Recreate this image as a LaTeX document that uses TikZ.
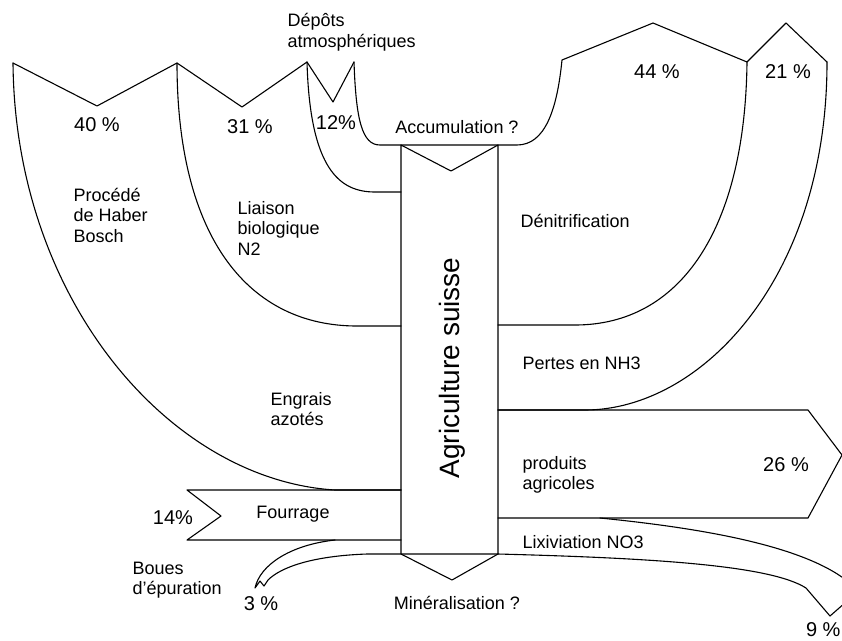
\documentclass[tikz,border=0pt]{standalone}
\usepackage{fontspec}
\setmainfont{Liberation Sans}
\begin{document}
\begin{tikzpicture}[x=1pt, y=-1pt, line width=1.1pt, line join=round, line cap=round,
	lbl/.style={font=\fontsize{18}{20.5}\selectfont, align=left, anchor=west, inner sep=0pt},
	pct/.style={font=\fontsize{20}{22}\selectfont, inner sep=0pt}]
	\useasboundingbox (0,0) rectangle (842,640);
	\path
	(13,63) coordinate (HBa)
	(97,106) coordinate (HBv)
	(177,63) coordinate (LBa)
	(242,107) coordinate (LBv)
	(307,62) coordinate (DAa)
	(333,102) coordinate (DAv)
	(354,62) coordinate (DAb)
	(562,60) coordinate (ACe)
	(653,23) coordinate (DNv)
	(747,62) coordinate (NHa)
	(786,23) coordinate (NHv)
	(827,62) coordinate (NHb)
	(401,145) coordinate (CNW)
	(498,145) coordinate (CNE)
	(401,554) coordinate (CSW)
	(498,554) coordinate (CSE)
	(451,171) coordinate (CN)
	(452,580) coordinate (CS)
	(401,192) coordinate (CL1)
	(401,326) coordinate (CL2)
	(401,490) coordinate (CL3)
	(401,540) coordinate (CL4)
	(498,325) coordinate (CR1)
	(498,410) coordinate (CR2)
	(498,518) coordinate (CR3)
	(808,410) coordinate (PAa)
	(842,455) coordinate (PAt)
	(808,518) coordinate (PAb)
	(187,490) coordinate (FOa)
	(221,516) coordinate (FOv)
	(187,540) coordinate (FOb)
	(255,588) coordinate (BOa)
	(268,580) coordinate (BOb);
	\draw (HBa)--(HBv)--(LBa)--(LBv)--(DAa)--(DAv)--(DAb);
	\draw (DAb) .. controls (356,120) and (362,145) .. (380,145) -- (517,145) .. controls (545,145) and (557,110) .. (ACe) -- (DNv) -- (NHa) -- (NHv) -- (NHb);
	\draw (CNW)--(CN)--(CNE) (CNW)--(CSW)--(CS)--(CSE)--(CNE);
	\draw (DAa) .. controls (310,170) and (340,192) .. (375,192) -- (CL1);
	\draw (LBa) .. controls (177,240) and (250,326) .. (357,326) -- (CL2);
	\draw (HBa) .. controls (15,300) and (170,480) .. (335,490) -- (CL3);
	\draw (NHa) .. controls (745,230) and (680,325) .. (575,325) -- (CR1);
	\draw (NHb) .. controls (827,280) and (700,410) .. (585,410) -- (CR2);
	\draw (CR2)--(PAa)--(PAt)--(PAb)--(CR3);
	\draw (CL3)--(FOa)--(FOv)--(FOb)--(CL4);
	\draw (335,540) .. controls (290,545) and (260,565) .. (BOa) -- (260,581) -- (264,586) -- (BOb) .. controls (280,568) and (310,556) .. (367,554) -- (CSE);
	\draw (CSE) .. controls (650,558) and (770,565) .. (806,588) -- (830,616) -- (846,602);
	\draw (600,518) .. controls (700,528) and (800,545) .. (846,580);
	\node[font=\fontsize{28}{30}\selectfont, rotate=90, inner sep=0pt] (agri) at (452,368) {Agriculture suisse};
	\foreach \n/\x/\y/\t in {p40/97/125/40 \%, p31/250/127/31 \%, p12/336/123/12\%, p44/657/72/44 \%, p21/788/72/21 \%, p26/786/465/26 \%, p14/173/518/14\%, p3/261/604/3 \%}
	\node[pct] (\n) at (\x,\y) {\t};
	\node[pct, anchor=east] (p9) at (841,630) {9 \%};
	\foreach \n/\x/\y/\t in {acc/457/127/Accumulation ?, four/293/514/Fourrage, mine/457/603/Minéralisation ?}
	\node[lbl, anchor=center] (\n) at (\x,\y) {\t};
	\foreach \n/\x/\y/\t in {depo/287/32/{Dépôts\\atmosphériques}, habe/73/215/{Procédé\\de Haber\\Bosch}, liai/237/228/{Liaison\\biologique\\N2}, engr/270/409/{Engrais\\azotés}, boue/132/580/{Boues\\d\char39 épuration}, deni/520/221/Dénitrification, pert/522/363/Pertes en NH3, prod/522/475/{produits\\agricoles}, lixi/522/542/Lixiviation NO3}
	\node[lbl] (\n) at (\x,\y) {\t};
\end{tikzpicture}
\end{document}
